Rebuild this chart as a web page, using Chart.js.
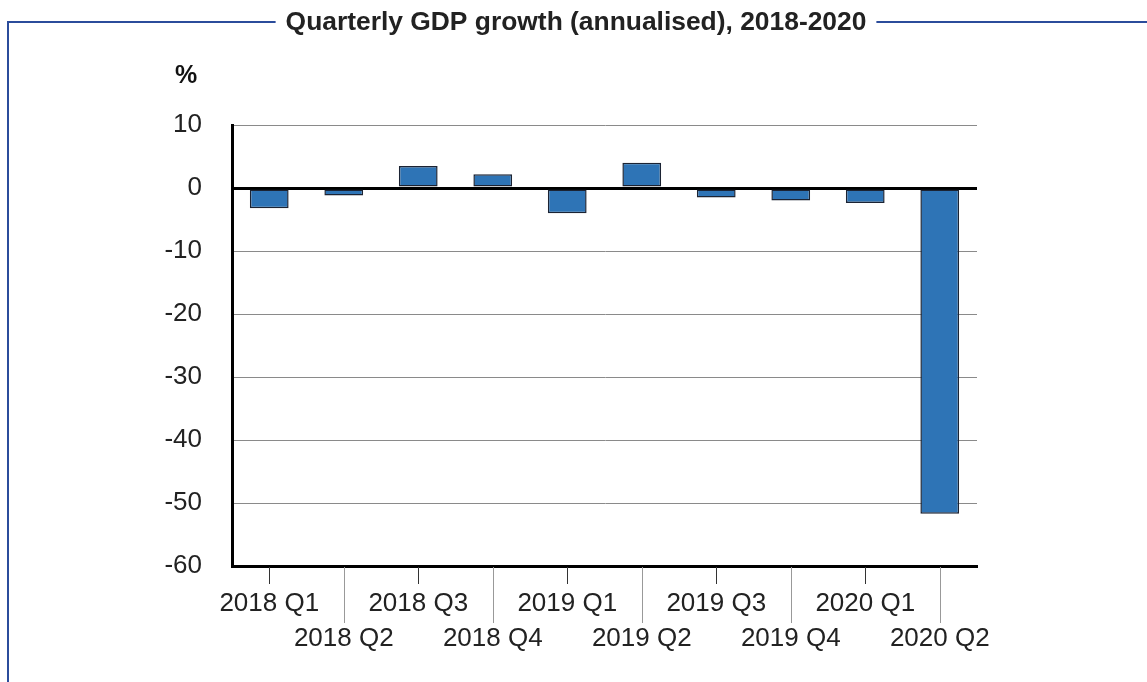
<!DOCTYPE html>
<html>
<head>
<meta charset="utf-8">
<script src="https://cdn.jsdelivr.net/npm/chart.js@4/dist/chart.umd.min.js"></script>
<style>
  html, body { margin: 0; padding: 0; background: #fff; }
  #wrap { width: 1147px; height: 682px; }
</style>
</head>
<body>
<div id="wrap"><canvas id="gdpChart" width="1147" height="682"></canvas></div>
<script>
const quarters = ['2018 Q1', '2018 Q2', '2018 Q3', '2018 Q4', '2019 Q1', '2019 Q2', '2019 Q3', '2019 Q4', '2020 Q1', '2020 Q2'];
const growth = [-3.2, -1.2, 3.5, 2.2, -4.0, 4.0, -1.5, -2.0, -2.4, -51.7];
const yTicks = [10, 0, -10, -20, -30, -40, -50, -60];
const chartTitle = 'Quarterly GDP growth (annualised), 2018-2020';
const unitLabel = '%';

const FONT = '"Liberation Sans", Arial, Helvetica, sans-serif';
const FRAME_BLUE = '#2b4c9b';

// two-row labels: every second label pushed down a line
const tickLabels = quarters.map((q, i) => i % 2 === 0 ? [q] : ['', q]);

const framePlugin = {
    id: 'frame',
    afterDraw(chart) {
        const ctx = chart.ctx;
        ctx.save();
        ctx.font = 'bold 26.4px ' + FONT;
        ctx.fillStyle = '#222';
        ctx.textAlign = 'center';
        ctx.textBaseline = 'middle';
        const cx = 576, ty = 22;
        ctx.fillText(chartTitle, cx, ty + 1);
        const w = ctx.measureText(chartTitle).width;

        ctx.strokeStyle = FRAME_BLUE;
        ctx.lineWidth = 2;
        ctx.beginPath();
        ctx.moveTo(8, 682);
        ctx.lineTo(8, ty);
        ctx.lineTo(cx - w / 2 - 10, ty);
        ctx.moveTo(cx + w / 2 + 10, ty);
        ctx.lineTo(1147, ty);
        ctx.stroke();

        // unit label above the axis
        ctx.font = 'bold 25px ' + FONT;
        ctx.fillStyle = '#111';
        ctx.fillText(unitLabel, 186, 76);

        // x tick marks: short for top row, long grey for bottom row
        const xs = chart.scales.x;
        const bottom = chart.chartArea.bottom;
        xs.ticks.forEach((t, i) => {
            const x = Math.round(xs.getPixelForTick(i)) + 0.5;
            ctx.beginPath();
            if (i % 2 === 0) {
                ctx.strokeStyle = '#333';
                ctx.moveTo(x, bottom + 1);
                ctx.lineTo(x, bottom + 18);
            } else {
                ctx.strokeStyle = '#999';
                ctx.moveTo(x, bottom + 1);
                ctx.lineTo(x, bottom + 57);
            }
            ctx.lineWidth = 1;
            ctx.stroke();
        });
        ctx.restore();
    }
};

new Chart(document.getElementById('gdpChart'), {
    type: 'bar',
    data: {
        labels: tickLabels,
        datasets: [{
            data: growth,
            backgroundColor: '#2e74b6',
            borderColor: '#1b2333',
            borderWidth: 1.5,
            borderSkipped: false,
            categoryPercentage: 1,
            barPercentage: 0.52
        }]
    },
    options: {
        responsive: false,
        animation: false,
        devicePixelRatio: 1,
        layout: { padding: { left: 0, right: 170, top: 125, bottom: 0 } },
        plugins: {
            legend: { display: false },
            tooltip: { enabled: false }
        },
        scales: {
            x: {
                grid: { display: false, drawTicks: false },
                border: { display: true, color: '#000', width: 3 },
                ticks: {
                    color: '#222',
                    font: { family: FONT, size: 26, lineHeight: 1.35 },
                    padding: 20,
                    maxRotation: 0,
                    autoSkip: false
                },
                afterFit(scale) { scale.height = 116; }
            },
            y: {
                min: -60,
                max: 10,
                afterBuildTicks(scale) {
                    scale.ticks = yTicks.map(v => ({ value: v }));
                },
                grid: {
                    drawTicks: false,
                    color: ctx => ctx.tick && ctx.tick.value === 0 ? '#000' : '#8a8a8a',
                    lineWidth: ctx => ctx.tick && ctx.tick.value === 0 ? 3 : 1
                },
                border: { display: true, color: '#000', width: 3 },
                ticks: {
                    color: '#222',
                    font: { family: FONT, size: 26 },
                    padding: 30
                },
                afterFit(scale) { scale.width = 232; }
            }
        }
    },
    plugins: [framePlugin]
});
</script>
</body>
</html>
